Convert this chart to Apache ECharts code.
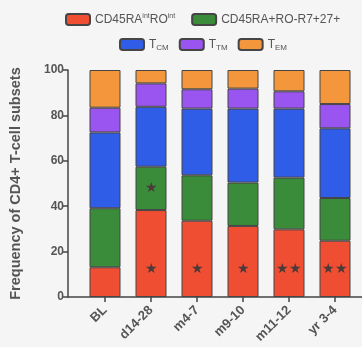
<!DOCTYPE html>
<html><head><meta charset="utf-8">
<script src="https://cdn.jsdelivr.net/npm/echarts@6/dist/echarts.min.js"></script>
<style>html,body{margin:0;padding:0;background:#f5f5f5;}#c{width:362px;height:347px;}</style>
</head><body><div id="c"></div>
<script>
var categories = ['BL', 'd14-28', 'm4-7', 'm9-10', 'm11-12', 'yr 3-4'];
var yTicks = [0, 20, 40, 60, 80, 100];
var intInt = [13.1, 38.3, 33.6, 31.3, 29.8, 24.8];
var naive = [26.0, 19.1, 20.0, 19.1, 22.8, 18.8];
var tcm = [33.4, 26.4, 29.4, 32.6, 30.4, 30.7];
var ttm = [10.9, 10.3, 8.5, 8.8, 7.6, 10.7];
var tem = [16.6, 5.9, 8.5, 8.2, 9.4, 15.0];
var intStars = ['', '★', '★', '★', '★★', '★★'];
var naiveStars = ['', '★', '', '', '', ''];

var names = ['CD45RAintROint', 'CD45RA+RO-R7+27+', 'TCM', 'TTM', 'TEM'];
var labelsRich = {
  'CD45RAintROint': '{n|CD45RA}{sup|int}{n|RO}{sup|int}',
  'CD45RA+RO-R7+27+': '{n|CD45RA+RO-R7+27+}',
  'TCM': '{n|T}{sub|CM}',
  'TTM': '{n|T}{sub|TM}',
  'TEM': '{n|T}{sub|EM}'
};
var colors = ['#f04e33', '#3a8c3a', '#2f5de8', '#9a55f0', '#f4963c'];
var values = [intInt, naive, tcm, ttm, tem];
var stars = [intStars, naiveStars, null, null, null];

var chart = echarts.init(document.getElementById('c'));
var series = names.map(function (n, i) {
  return {
    name: n, type: 'bar', stack: 'a', xAxisIndex: 0, yAxisIndex: 0,
    barWidth: 31,
    itemStyle: { color: colors[i], borderColor: '#454545', borderWidth: 1 },
    data: values[i].map(function (v, j) {
      var d = { value: v };
      if (stars[i] && stars[i][j]) {
        d.label = {
          show: true, formatter: stars[i][j],
          position: i === 0 ? 'insideBottom' : 'inside',
          distance: i === 0 ? 21 : 0,
          color: '#4a3a3a', fontSize: 14
        };
      }
      return d;
    })
  };
});

var textRich = {
  n: { fontFamily: 'Liberation Sans, Arial', fontSize: 12, color: '#555' },
  sup: { fontFamily: 'Liberation Sans, Arial', fontSize: 7, color: '#555', verticalAlign: 'top', padding: [0, 0, 6, 0] },
  sub: { fontFamily: 'Liberation Sans, Arial', fontSize: 8, color: '#555', padding: [6, 0, 0, 0] }
};

chart.setOption({
  backgroundColor: '#f5f5f5',
  animation: false,
  legend: [{
    data: names.slice(0, 2), top: 8, left: 60, itemWidth: 24, itemHeight: 11, itemGap: 16,
    formatter: function (n) { return labelsRich[n]; },
    textStyle: { rich: textRich }
  }, {
    data: names.slice(2), top: 33, left: 114, itemWidth: 24, itemHeight: 11, itemGap: 10,
    formatter: function (n) { return labelsRich[n]; },
    textStyle: { rich: textRich }
  }],
  grid: [
    { left: 82, right: 4, top: 70, bottom: 50 },
    { left: 68, right: 0, top: 70, bottom: 50 }
  ],
  xAxis: [{
    type: 'category', data: categories, gridIndex: 0,
    axisLine: { show: false },
    axisTick: { show: true, alignWithLabel: true, length: 5, lineStyle: { color: '#444', width: 1.5 } },
    axisLabel: { rotate: 45, interval: 0, color: '#555', fontFamily: 'Liberation Sans, Arial', fontSize: 13, fontWeight: 'bold', margin: 11 }
  }, {
    type: 'value', gridIndex: 1, min: 0, max: 1,
    axisLine: { show: true, lineStyle: { color: '#444', width: 1.5 } },
    axisTick: { show: false }, axisLabel: { show: false }, splitLine: { show: false }
  }],
  yAxis: [{
    type: 'value', gridIndex: 0, min: yTicks[0], max: yTicks[yTicks.length - 1], interval: 20,
    offset: 14,
    name: 'Frequency of CD4+ T-cell subsets', nameLocation: 'middle', nameGap: 45,
    nameTextStyle: { color: '#555', fontFamily: 'Liberation Sans, Arial', fontSize: 14.5, fontWeight: 'bold' },
    axisLine: { show: true, lineStyle: { color: '#444', width: 1.5 } },
    axisTick: { show: true, length: 5, lineStyle: { color: '#444', width: 1.5 } },
    axisLabel: { color: '#555', fontFamily: 'Liberation Sans, Arial', fontSize: 12, fontWeight: 'bold', margin: 4 },
    splitLine: { show: false }
  }, {
    type: 'value', gridIndex: 1, show: false
  }],
  series: series
});
</script></body></html>
